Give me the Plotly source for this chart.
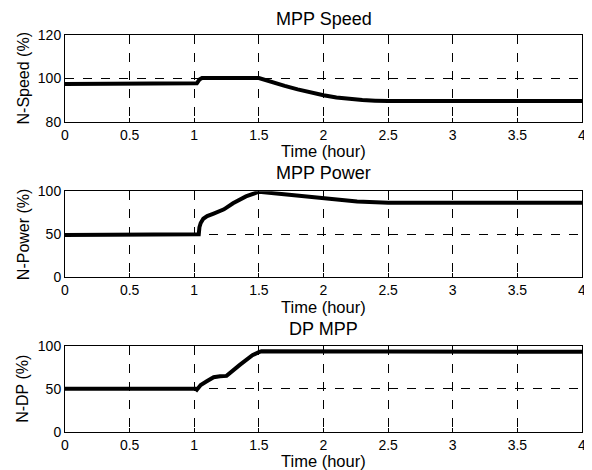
import plotly.graph_objects as go
from plotly.subplots import make_subplots

# --- data ---
speed_t = [0, 1.0, 1.02, 1.04, 1.06, 1.5, 1.6, 1.7, 1.8, 1.9, 2.0, 2.1, 2.2, 2.3, 2.4, 2.5, 4.0]
speed_v = [97.5, 97.5, 97.8, 99.5, 100.2, 100.2, 98.3, 96.6, 95.0, 93.6, 92.3, 91.3, 90.6, 90.1, 89.8, 89.6, 89.6]

power_t = [0, 1.02, 1.035, 1.04, 1.05, 1.07, 1.1, 1.15, 1.2, 1.23, 1.3, 1.4, 1.5, 1.6, 1.74, 2.0, 2.26, 2.5, 4.0]
power_v = [49, 49, 50, 58, 63, 68, 71, 74, 77, 79, 86, 94, 99.5, 98, 95.5, 92, 88, 86.7, 86.5]

dp_t = [0, 1.01, 1.02, 1.05, 1.1, 1.15, 1.2, 1.25, 1.35, 1.45, 1.5, 1.52, 2.5, 4.0]
dp_v = [50.2, 50.2, 49, 54.5, 59, 63.5, 64.5, 65, 77.5, 89, 92.5, 93.5, 93.2, 93.0]

titles = ["MPP Speed", "MPP Power", "DP MPP"]
ylabels = ["N-Speed (%)", "N-Power (%)", "N-DP (%)"]
xlabel = "Time (hour)"
x_ticks = [0, 0.5, 1, 1.5, 2, 2.5, 3, 3.5, 4]
x_ticktext = ["0", "0.5", "1", "1.5", "2", "2.5", "3", "3.5", "4"]
y_ticks = [[80, 100, 120], [0, 50, 100], [0, 50, 100]]
y_ranges = [[80, 120], [0, 100], [0, 100]]

# page has an 8px body margin, so the figure is laid out in page pixels minus 8
OFF = 8
W, H = 592 - OFF, 470 - OFF
L, R = 65 - OFF, 582 - OFF
# panel pixel boxes in page coords (top, bottom)
boxes = [(35, 122), (191.3, 277), (345.7, 432)]
title_y = [18.5, 172, 327.5]
xlabel_y = [150.5, 305.5, 460]
ylabel_x = 23

fig = make_subplots(rows=3, cols=1)
series = [(speed_t, speed_v), (power_t, power_v), (dp_t, dp_v)]
font = "Liberation Sans, Arial, sans-serif"
for i, (t, v) in enumerate(series):
    fig.add_trace(go.Scatter(x=t, y=v, mode="lines",
                             line=dict(color="black", width=4),
                             showlegend=False, cliponaxis=False), row=i + 1, col=1)

def py(y):
    return 1 - (y - OFF) / H

for i in range(3):
    top, bot = boxes[i]
    dom = [py(bot), py(top)]
    xa = "xaxis" if i == 0 else f"xaxis{i+1}"
    ya = "yaxis" if i == 0 else f"yaxis{i+1}"
    common = dict(showgrid=True, gridcolor="black", griddash="dash", gridwidth=1,
                  showline=True, linecolor="black", linewidth=1, mirror=True,
                  ticks="inside", ticklen=4, tickcolor="black", automargin=False,
                  ticklabeloverflow="allow",
                  zeroline=False, tickfont=dict(size=14, color="black", family=font))
    fig.layout[xa].update(domain=[0, 1], range=[0, 4], tickvals=x_ticks, ticktext=x_ticktext,
                          **common)
    fig.layout[ya].update(domain=dom, range=y_ranges[i], tickvals=y_ticks[i], **common)
    fig.add_annotation(text=titles[i], xref="paper", yref="paper", x=0.5,
                       y=py(title_y[i] + 1), yanchor="middle", showarrow=False,
                       font=dict(size=18, color="black", family=font))
    fig.add_annotation(text=xlabel, xref="paper", yref="paper", x=0.5,
                       y=py(xlabel_y[i] + 1), yanchor="middle", showarrow=False,
                       font=dict(size=16.5, color="black", family=font))
    fig.add_annotation(text=ylabels[i], xref="paper", yref="paper",
                       x=-(L - (ylabel_x - OFF)) / (R - L), xanchor="center",
                       y=py((top + bot) / 2), yanchor="middle", textangle=-90,
                       showarrow=False, font=dict(size=16, color="black", family=font))

fig.update_layout(width=W, height=H, margin=dict(l=L, r=W - R, t=0, b=0, autoexpand=False),
                  plot_bgcolor="white", paper_bgcolor="white")
fig.write_html("out.html")
